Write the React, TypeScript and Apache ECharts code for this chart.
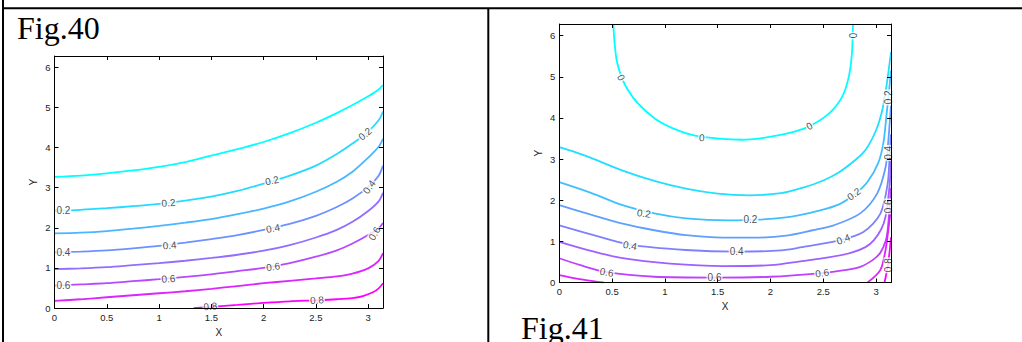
import React, { useEffect, useRef } from "react";
import * as echarts from "echarts";

// ---------- axes ----------
const X_MAX = 3.1416;
const Y_MAX = 6.2832;
const xTickLabels = [0, 0.5, 1, 1.5, 2, 2.5, 3];
const yTickLabels = [0, 1, 2, 3, 4, 5, 6];

// ---------- Fig.40 contour lines (x, y) ----------
const fig40Levels = [0.1, 0.2, 0.3, 0.4, 0.5, 0.6, 0.7, 0.8];
const fig40_c01 = [[0,3.27],[0.25,3.30],[0.5,3.36],[0.75,3.43],[1.0,3.52],[1.25,3.64],[1.5,3.80],[1.75,3.96],[2.0,4.14],[2.25,4.36],[2.5,4.62],[2.7,4.86],[2.85,5.06],[3.0,5.28],[3.1,5.45],[3.1416,5.56]];
const fig40_c02 = [[0,2.43],[0.25,2.45],[0.5,2.49],[0.75,2.54],[1.0,2.60],[1.25,2.68],[1.5,2.78],[1.75,2.92],[2.0,3.10],[2.25,3.30],[2.5,3.55],[2.7,3.84],[2.85,4.10],[3.0,4.40],[3.1,4.68],[3.1416,4.90]];
const fig40_c03 = [[0,1.86],[0.25,1.88],[0.5,1.92],[0.75,1.98],[1.0,2.05],[1.25,2.13],[1.5,2.22],[1.75,2.34],[2.0,2.48],[2.25,2.66],[2.5,2.90],[2.7,3.15],[2.85,3.40],[3.0,3.75],[3.1,4.02],[3.1416,4.22]];
const fig40_c04 = [[0,1.39],[0.25,1.41],[0.5,1.44],[0.75,1.49],[1.0,1.55],[1.25,1.63],[1.5,1.72],[1.75,1.82],[2.0,1.95],[2.25,2.10],[2.5,2.30],[2.7,2.52],[2.85,2.73],[3.0,3.02],[3.1,3.30],[3.1416,3.55]];
const fig40_c05 = [[0,0.97],[0.25,0.99],[0.5,1.02],[0.75,1.07],[1.0,1.12],[1.25,1.18],[1.5,1.25],[1.75,1.33],[2.0,1.43],[2.25,1.57],[2.5,1.76],[2.7,1.95],[2.85,2.15],[3.0,2.42],[3.1,2.66],[3.1416,2.87]];
const fig40_c06 = [[0,0.56],[0.25,0.59],[0.5,0.62],[0.75,0.67],[1.0,0.72],[1.25,0.78],[1.5,0.84],[1.75,0.92],[2.0,1.00],[2.25,1.12],[2.5,1.28],[2.7,1.44],[2.85,1.61],[3.0,1.82],[3.1,1.99],[3.1416,2.12]];
const fig40_c07 = [[0,0.18],[0.25,0.22],[0.5,0.27],[0.75,0.32],[1.0,0.37],[1.25,0.42],[1.5,0.48],[1.75,0.55],[2.0,0.62],[2.25,0.68],[2.5,0.74],[2.7,0.79],[2.85,0.86],[3.0,0.99],[3.1,1.18],[3.1416,1.37]];
const fig40_c08 = [[1.33,0],[1.5,0.03],[1.75,0.08],[2.0,0.13],[2.25,0.17],[2.5,0.195],[2.7,0.22],[2.85,0.25],[2.95,0.30],[3.05,0.40],[3.1,0.49],[3.1416,0.62]];
const fig40Lines = [fig40_c01, fig40_c02, fig40_c03, fig40_c04, fig40_c05, fig40_c06, fig40_c07, fig40_c08];

// contour labels: x, y, text, angle (deg)
const fig40Labels: [number, number, string, number][] = [
  [0.085, 2.43, "0.2", 0], [1.09, 2.62, "0.2", 5], [2.08, 3.18, "0.2", 12], [2.97, 4.34, "0.2", 40],
  [0.085, 1.39, "0.4", 0], [1.10, 1.56, "0.4", 5], [2.09, 1.99, "0.4", 10], [3.01, 3.02, "0.4", 55],
  [0.085, 0.56, "0.6", 0], [1.09, 0.73, "0.6", 4], [2.09, 1.03, "0.6", 8], [3.06, 1.86, "0.6", 60],
  [1.49, 0.04, "0.8", 5], [2.51, 0.20, "0.8", 3],
];

// ---------- Fig.41 contour lines (x, y) ----------
const fig41_c00 = [[0.512,6.2832],[0.522,5.87],[0.544,5.39],[0.591,4.98],[0.654,4.66],[0.749,4.34],[0.907,3.98],[1.065,3.76],[1.286,3.57],[1.539,3.49],[1.729,3.47],[1.918,3.51],[2.171,3.63],[2.36,3.79],[2.55,4.10],[2.676,4.50],[2.74,4.98],[2.771,5.55],[2.781,6.2832]];
const fig41_c01 = [[0,3.29],[0.15,3.17],[0.3,3.03],[0.6,2.72],[0.9,2.47],[1.2,2.28],[1.5,2.16],[1.8,2.12],[2.1,2.17],[2.3,2.30],[2.5,2.48],[2.65,2.68],[2.8,2.97],[2.9,3.22],[3.0,3.70],[3.06,4.20],[3.1,4.80],[3.1416,5.60]];
const fig41_c02 = [[0,2.44],[0.3,2.18],[0.6,1.88],[0.9,1.68],[1.2,1.56],[1.6,1.51],[1.9,1.53],[2.2,1.60],[2.45,1.74],[2.65,1.90],[2.8,2.15],[2.92,2.45],[3.02,2.90],[3.07,3.40],[3.1,4.10],[3.125,4.70],[3.1416,5.15]];
const fig41_c03 = [[0,1.88],[0.3,1.65],[0.6,1.43],[0.9,1.27],[1.2,1.15],[1.55,1.09],[1.85,1.09],[2.15,1.14],[2.4,1.27],[2.6,1.39],[2.85,1.68],[3.01,2.16],[3.09,2.80],[3.115,3.40],[3.13,3.90],[3.1416,4.30]];
const fig41_c04 = [[0,1.39],[0.3,1.17],[0.67,0.92],[1.2,0.79],[1.68,0.75],[2.1,0.78],[2.3,0.86],[2.63,1.01],[2.88,1.23],[3.04,1.67],[3.11,2.40],[3.128,3.05],[3.1416,3.60]];
const fig41_c05 = [[0,0.99],[0.3,0.77],[0.6,0.59],[1.05,0.46],[1.55,0.40],[2.0,0.42],[2.3,0.52],[2.55,0.61],[2.76,0.72],[2.9,0.86],[2.98,1.03],[3.05,1.30],[3.09,1.60],[3.13,2.40],[3.1416,3.00]];
const fig41_c06 = [[0,0.59],[0.2,0.42],[0.45,0.25],[0.9,0.14],[1.47,0.12],[2.0,0.14],[2.49,0.23],[2.7,0.30],[2.85,0.38],[2.97,0.55],[3.04,0.72],[3.09,1.00],[3.11,1.27],[3.13,1.90],[3.1416,2.30]];
const fig41_c07a = [[0,0.18],[0.15,0.10],[0.3,0.04],[0.42,0]];
const fig41_c07b = [[2.92,0],[3.04,0.30],[3.09,0.79],[3.12,1.35],[3.1416,1.80]];
const fig41_c08 = [[3.08,0],[3.11,0.38],[3.13,0.79],[3.1416,1.10]];
const fig41Lines = [fig41_c00, fig41_c01, fig41_c02, fig41_c03, fig41_c04, fig41_c05, fig41_c06, fig41_c07a, fig41_c07b, fig41_c08];
const fig41Levels = [0, 0.1, 0.2, 0.3, 0.4, 0.5, 0.6, 0.7, 0.7, 0.8];

const fig41Labels: [number, number, string, number][] = [
  [0.585, 4.98, "0", -65], [1.35, 3.52, "0", -5], [2.37, 3.80, "0", 30], [2.78, 6.0, "0", -90],
  [0.80, 1.68, "0.2", -8], [1.81, 1.52, "0.2", 0], [2.79, 2.15, "0.2", 35], [3.118, 4.5, "0.2", 90],
  [0.67, 0.90, "0.4", -10], [1.68, 0.75, "0.4", 0], [2.69, 1.05, "0.4", 20], [3.118, 3.15, "0.4", 90],
  [0.45, 0.25, "0.6", -10], [1.47, 0.12, "0.6", 0], [2.49, 0.23, "0.6", 8], [3.118, 1.85, "0.6", 90],
  [3.118, 0.42, "0.8", 90],
];

// ---------- styling ----------
const coolColor = (t: number) => {
  const r = Math.round(255 * t);
  const g = Math.round(255 * (1 - t));
  return `rgb(${r},${g},255)`;
};
const SANS = "Liberation Sans";
const SERIF = "Liberation Serif";

const near = (arr: number[], v: number) => arr.some((t) => Math.abs(t - v) < 1e-6);

function makeAxes(grid: number) {
  const axisLine = { show: true, onZero: false, lineStyle: { color: "#000", width: 1 } };
  const axisTick = { show: true, inside: true, length: 4, lineStyle: { color: "#000", width: 1 } };
  const nameTextStyle = { fontSize: 10, color: "#222", fontFamily: SANS };
  const xBase = { gridIndex: grid, type: "value", min: 0, max: X_MAX, interval: 0.5, splitLine: { show: false }, axisLine, axisTick, z: 5 };
  const yBase = { gridIndex: grid, type: "value", min: 0, max: Y_MAX, interval: 1, splitLine: { show: false }, axisLine, axisTick, z: 5 };
  const xs = [
    {
      ...xBase, position: "bottom", name: "X", nameLocation: "middle", nameGap: 16, nameTextStyle,
      axisLabel: { fontSize: 9.5, color: "#222", fontFamily: SANS, margin: 4, showMaxLabel: false,
        formatter: (v: number) => (near(xTickLabels, v) ? String(v) : "") },
    },
    { ...xBase, position: "top", axisLabel: { show: false } },
  ];
  const ys = [
    {
      ...yBase, position: "left", name: "Y", nameLocation: "middle", nameGap: 16, nameTextStyle,
      axisLabel: { fontSize: 9.5, color: "#222", fontFamily: SANS, margin: 4, showMaxLabel: false,
        formatter: (v: number) => (near(yTickLabels, v) ? String(v) : "") },
    },
    { ...yBase, position: "right", axisLabel: { show: false } },
  ];
  return { xs, ys };
}

function lineSeries(data: number[][], color: string, axisIdx: number) {
  return {
    type: "line", xAxisIndex: axisIdx, yAxisIndex: axisIdx, data,
    symbol: "none", showSymbol: false, smooth: 0.3, silent: true, clip: true,
    lineStyle: { color, width: 1.8 }, z: 2,
  };
}

function labelSeries(labels: [number, number, string, number][], axisIdx: number) {
  return {
    type: "scatter", xAxisIndex: axisIdx, yAxisIndex: axisIdx, silent: true, clip: false,
    symbol: "rect", symbolSize: 1, itemStyle: { color: "rgba(0,0,0,0)" }, z: 3,
    data: labels.map(([x, y, t, r]) => ({ value: [x, y], name: t, label: { rotate: r } })),
    label: {
      show: true, position: "inside", formatter: "{b}", fontSize: 10, color: "#1a1a1a",
      fontFamily: SANS, backgroundColor: "#fff", padding: [0, 1],
    },
  };
}

export default function App() {
  const ref = useRef<HTMLDivElement>(null);
  useEffect(() => {
    if (!ref.current) return;
    const chart = echarts.init(ref.current, undefined, { renderer: "svg" });
    const a0 = makeAxes(0);
    const a1 = makeAxes(1);
    const series: any[] = [];
    fig40Lines.forEach((d, i) => series.push(lineSeries(d, coolColor((fig40Levels[i] - 0.1) / 0.7), 0)));
    series.push(labelSeries(fig40Labels, 0));
    fig41Lines.forEach((d, i) => series.push(lineSeries(d, coolColor(fig41Levels[i] / 0.8), 2)));
    series.push(labelSeries(fig41Labels, 2));
    chart.setOption({
      animation: false,
      backgroundColor: "#fff",
      grid: [
        { left: 54.5, top: 56, width: 328.5, height: 257 },
        { left: 559.3, top: 24, width: 331.7, height: 258.5 },
      ],
      xAxis: [...a0.xs, ...a1.xs],
      yAxis: [...a0.ys, ...a1.ys],
      series,
      graphic: [
        { type: "line", shape: { x1: 3, y1: 0, x2: 3, y2: 342 }, style: { stroke: "#000", lineWidth: 2 } },
        { type: "line", shape: { x1: 2, y1: 8.3, x2: 1022, y2: 8.3 }, style: { stroke: "#000", lineWidth: 2 } },
        { type: "line", shape: { x1: 488.3, y1: 8, x2: 488.3, y2: 342 }, style: { stroke: "#000", lineWidth: 2 } },
        { type: "text", x: 17, y: 28, style: { text: "Fig.40", fontSize: 32, fontFamily: SERIF, fill: "#000", align: "left", verticalAlign: "middle" } },
        { type: "text", x: 521, y: 328, style: { text: "Fig.41", fontSize: 32, fontFamily: SERIF, fill: "#000", align: "left", verticalAlign: "middle" } },
      ],
    });
    return () => chart.dispose();
  }, []);
  return <div ref={ref} style={{ position: "absolute", left: 0, top: 0, width: 1022, height: 342 }} />;
}
